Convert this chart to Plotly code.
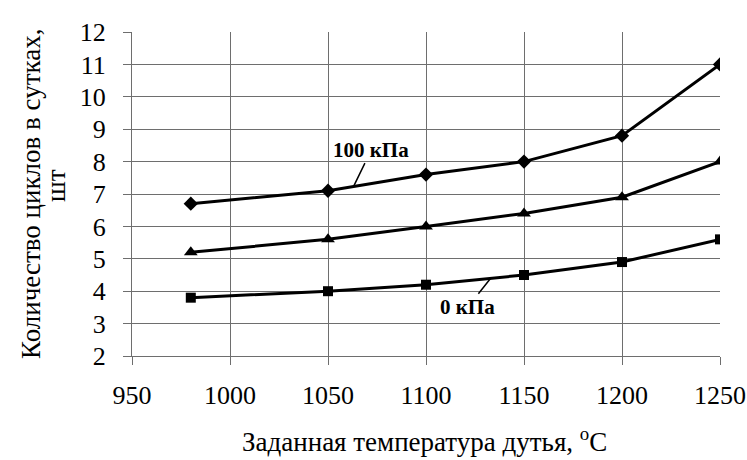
import plotly.graph_objects as go

# Blast temperature setpoints, °C
temps = [980, 1050, 1100, 1150, 1200, 1250]

# Cycles per day at different blast pressures
cycles_100kpa = [6.7, 7.1, 7.6, 8.0, 8.8, 11.0]
cycles_mid = [5.2, 5.6, 6.0, 6.4, 6.9, 8.0]
cycles_0kpa = [3.8, 4.0, 4.2, 4.5, 4.9, 5.6]

x_ticks = [950, 1000, 1050, 1100, 1150, 1200, 1250]
y_ticks = list(range(2, 13))

FONT = "Liberation Serif"

fig = go.Figure()

series = [
    (cycles_100kpa, "diamond", 11),
    (cycles_mid, "triangle-up", 12),
    (cycles_0kpa, "square", 10),
]
for values, symbol, size in series:
    fig.add_trace(go.Scatter(
        x=temps, y=values, mode="lines+markers",
        line=dict(color="black", width=3),
        marker=dict(symbol=symbol, size=size, color="black"),
        showlegend=False,
    ))

def on_line(xs, ys, x):
    for i in range(len(xs) - 1):
        if xs[i] <= x <= xs[i + 1]:
            t = (x - xs[i]) / (xs[i + 1] - xs[i])
            return ys[i] + t * (ys[i + 1] - ys[i])
    return ys[-1]

# Series labels with leader lines
for text, xs, ys, xp, ax, ay in [
    ("<b>100 кПа</b>", temps, cycles_100kpa, 1063, 18, -37),
    ("<b>0 кПа</b>", temps, cycles_0kpa, 1133, -23, 29),
]:
    fig.add_annotation(
        x=xp, y=on_line(xs, ys, xp), text=text,
        showarrow=True, arrowhead=0, arrowwidth=1.5, arrowcolor="black",
        ax=ax, ay=ay, font=dict(family=FONT, size=21, color="black"),
    )

# Axis titles (y title split over two tightly spaced rotated lines)
fig.add_annotation(
    text="Заданная температура дутья, <sup>o</sup>C",
    xref="paper", yref="paper", x=(424 - 132) / 588, y=-(440 - 356) / 324,
    showarrow=False, xanchor="center", yanchor="middle",
    font=dict(family=FONT, size=27, color="black"),
)
fig.add_annotation(
    text="Количество циклов в сутках,",
    xref="paper", yref="paper", x=-(132 - 31) / 588, y=(356 - 194) / 324,
    showarrow=False, xanchor="center", yanchor="middle", textangle=-90,
    font=dict(family=FONT, size=27, color="black"),
)
fig.add_annotation(
    text="шт",
    xref="paper", yref="paper", x=-(132 - 56) / 588, y=(356 - 186) / 324,
    showarrow=False, xanchor="center", yanchor="middle", textangle=-90,
    font=dict(family=FONT, size=27, color="black"),
)

axis_common = dict(
    showgrid=True, gridcolor="#6e6e6e", gridwidth=1,
    showline=True, linecolor="#6e6e6e", linewidth=1,
    ticks="outside", ticklen=8, tickcolor="#6e6e6e",
    tickfont=dict(family=FONT, size=26, color="black"),
    zeroline=False, automargin=False,
)

fig.update_xaxes(range=[950, 1250], tickvals=x_ticks, ticklabelstandoff=8,
                 **axis_common)
fig.update_yaxes(range=[2, 12], tickvals=y_ticks, ticklabelstandoff=12,
                 **axis_common)

fig.update_layout(
    width=747, height=460,
    margin=dict(l=132, r=27, t=32, b=104),
    paper_bgcolor="white", plot_bgcolor="white",
    font=dict(family=FONT, size=22, color="black"),
)

fig.write_html("out.html")
